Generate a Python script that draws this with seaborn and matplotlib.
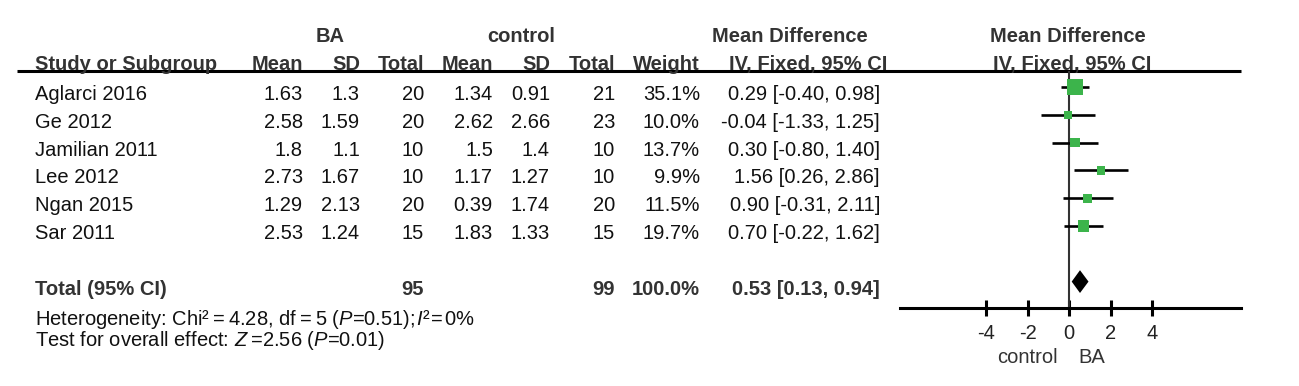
import matplotlib
matplotlib.use("Agg")
import matplotlib.pyplot as plt
import pandas as pd
import seaborn as sns

# Forest plot data
studies = ["Aglarci 2016", "Ge 2012", "Jamilian 2011", "Lee 2012", "Ngan 2015", "Sar 2011"]
ba_mean = [1.63, 2.58, 1.8, 2.73, 1.29, 2.53]
ba_sd = [1.3, 1.59, 1.1, 1.67, 2.13, 1.24]
ba_total = [20, 20, 10, 10, 20, 15]
ctl_mean = [1.34, 2.62, 1.5, 1.17, 0.39, 1.83]
ctl_sd = [0.91, 2.66, 1.4, 1.27, 1.74, 1.33]
ctl_total = [21, 23, 10, 10, 20, 15]
weight = [35.1, 10.0, 13.7, 9.9, 11.5, 19.7]
md = [0.29, -0.04, 0.30, 1.56, 0.90, 0.70]
ci_low = [-0.40, -1.33, -0.80, 0.26, -0.31, -0.22]
ci_high = [0.98, 1.25, 1.40, 2.86, 2.11, 1.62]

total_ba = 95
total_ctl = 99
total_weight = 100.0
total_md = 0.53
total_low = 0.13
total_high = 0.94

x_ticks = [-4, -2, 0, 2, 4]

sns.set_theme(style="white")
plt.rcParams["font.family"] = ["Liberation Sans", "DejaVu Sans"]
plt.rcParams["mathtext.fontset"] = "custom"
plt.rcParams["mathtext.rm"] = "Liberation Sans"
plt.rcParams["mathtext.it"] = "Liberation Sans:italic"

W, H = 1299, 386
fig = plt.figure(figsize=(W / 100, H / 100), dpi=100)

# text layer in pixel coordinates
tax = fig.add_axes([0, 0, 1, 1])
tax.set_xlim(0, W)
tax.set_ylim(H, 0)
tax.axis("off")

FS = 14.5
HEAD = "#333333"
TXT = "#111111"
row_step = 27.8
total_row = len(studies) + 1
ts = "\u2009"  # thin space
hs = "\u200a"  # hair space


def base(i):
    return 100 + row_step * i


# headers
tax.text(330, 42, "BA", ha="center", fontsize=FS, weight="bold", color=HEAD)
tax.text(521, 42, "control", ha="center", fontsize=FS, weight="bold", color=HEAD)
tax.text(790, 42, "Mean Difference", ha="center", fontsize=FS, weight="bold", color=HEAD)
tax.text(1068, 42, "Mean Difference", ha="center", fontsize=FS, weight="bold", color=HEAD)

cols = [303, 360, 424, 493, 550, 615, 700]
tax.text(35, 70, "Study or Subgroup", ha="left", fontsize=FS, weight="bold", color=HEAD)
for x, lab in zip(cols, ["Mean", "SD", "Total", "Mean", "SD", "Total", "Weight"]):
    tax.text(x, 70, lab, ha="right", fontsize=FS, weight="bold", color=HEAD)
tax.text(808, 70, "IV, Fixed, 95% CI", ha="center", fontsize=FS, weight="bold", color=HEAD)
tax.text(1072, 70, "IV, Fixed, 95% CI", ha="center", fontsize=FS, weight="bold", color=HEAD)
tax.plot([17, 1241], [71, 71], color="black", lw=2.2, solid_capstyle="butt")

# study rows
for i, name in enumerate(studies):
    y = base(i)
    vals = [ba_mean[i], ba_sd[i], ba_total[i], ctl_mean[i], ctl_sd[i], ctl_total[i]]
    tax.text(35, y, name, ha="left", fontsize=FS, color=TXT)
    for x, v in zip(cols, vals):
        tax.text(x, y, str(v), ha="right", fontsize=FS, color=TXT)
    tax.text(cols[6], y, f"{weight[i]:.1f}%", ha="right", fontsize=FS, color=TXT)
    tax.text(880, y, f"{md[i]:.2f} [{ci_low[i]:.2f}, {ci_high[i]:.2f}]",
             ha="right", fontsize=FS, color=TXT)

# total row
y = base(total_row)
tax.text(35, y, "Total (95% CI)", ha="left", fontsize=FS, weight="bold", color=HEAD)
tax.text(cols[2], y, str(total_ba), ha="right", fontsize=FS, weight="bold", color=HEAD)
tax.text(cols[5], y, str(total_ctl), ha="right", fontsize=FS, weight="bold", color=HEAD)
tax.text(cols[6], y, f"{total_weight:.1f}%", ha="right", fontsize=FS, weight="bold", color=HEAD)
tax.text(880, y, f"{total_md:.2f} [{total_low:.2f}, {total_high:.2f}]",
         ha="right", fontsize=FS, weight="bold", color=HEAD)

het = (f"Heterogeneity: Chi²{ts}={ts}4.28, df{ts}={ts}5 ($\\mathit{{P}}$=0.51);"
       f"{hs}$\\mathit{{I}}$²{hs}={hs}0%")
tax.text(35, 325, het, ha="left", fontsize=FS, color=TXT)
tax.text(35, 346, f"Test for overall effect: $\\mathit{{Z}}${ts}=2.56 ($\\mathit{{P}}$=0.01)",
         ha="left", fontsize=FS, color=TXT)
tax.text(1058, 363, "control", ha="right", fontsize=FS, color=HEAD)
tax.text(1078, 363, "BA", ha="left", fontsize=FS, color=HEAD)

# forest panel: x from 900 to 1241 px, y from 71 to 308 px
left, right, top, bottom = 900, 1241, 71, 308
ax = fig.add_axes([left / W, (H - bottom) / H, (right - left) / W, (bottom - top) / H])
ax.set_facecolor("none")

df = pd.DataFrame({"md": md, "row": list(range(len(studies))), "weight": weight})
ax.axvline(0, color="#333333", lw=1.5, zorder=1)
ax.hlines(df["row"], ci_low, ci_high, color="black", lw=1.9, zorder=2)
smax = 125
sns.scatterplot(data=df, x="md", y="row", size="weight",
                sizes=(smax * min(weight) / max(weight), smax),
                marker="s", color="#3cb44b", linewidth=0, legend=False,
                ax=ax, zorder=3)
half = 0.41
ax.fill([total_low, total_md, total_high, total_md],
        [total_row, total_row - half, total_row, total_row + half],
        color="black", zorder=3, lw=0)

zero_px = 1069
unit_px = 20.75
ax.set_xlim((left - zero_px) / unit_px, (right - zero_px) / unit_px)
ax.set_ylim((bottom - 87) / row_step, (top - 87) / row_step)
ax.set_xlabel("")
ax.set_ylabel("")
ax.set_yticks([])
ax.set_xticks(x_ticks)
ax.set_xticklabels([str(t) for t in x_ticks])
ax.tick_params(axis="x", direction="inout", length=11.5, width=2.2, pad=5.5,
               labelsize=FS, colors="black", labelcolor="#222222", bottom=True)
for s in ["top", "left", "right"]:
    ax.spines[s].set_visible(False)
ax.spines["bottom"].set_color("black")
ax.spines["bottom"].set_linewidth(2.2)
ax.grid(False)

fig.savefig("out.png", dpi=100)
